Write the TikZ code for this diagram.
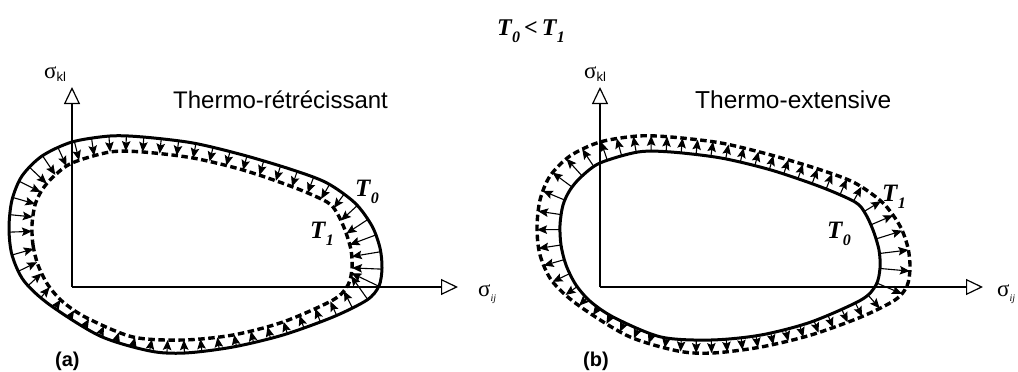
\documentclass[tikz,border=0pt]{standalone}
\usepackage{fontspec}
\setmainfont{Liberation Serif}
\setsansfont{Liberation Sans}
\usetikzlibrary{arrows.meta,decorations.markings,intersections}
\tikzset{
  solidline/.style={line width=3pt, line join=round},
  dashline/.style={line width=3.4pt, dash pattern=on 6.5pt off 3.5pt},
  arr/.style={line width=1.1pt, -{Stealth[length=10pt,width=8.5pt,inset=1.8pt]}},
  axisline/.style={line width=1.2pt, -{Triangle[length=17pt,width=16pt,fill=white,line width=1.2pt]}},
  lab/.style={inner sep=0pt, anchor=base west},
}
\newcommand\Tsub[2]{T\kern0.3pt\raisebox{-0.3em}{\fontsize{#1}{#1}\selectfont #2}}
\newcommand\sigkl{{\fontsize{23pt}{23pt}\selectfont σ}\raisebox{-3pt}{\sffamily\fontsize{13pt}{13pt}\selectfont kl}}
\newcommand\sigij{{\fontsize{23pt}{23pt}\selectfont σ}\raisebox{-5pt}{\itshape\fontsize{10pt}{10pt}\selectfont ij}}
\begin{document}
\begin{tikzpicture}[x=1pt,y=-1pt]
\fill[white] (0,0) rectangle (1018,372);
\useasboundingbox (0,0) rectangle (1018,372);

% ---------- title
\node[lab] (title) at (497,35) {\bfseries\itshape\fontsize{24pt}{28pt}\selectfont \Tsub{16pt}{0}\,<\,\Tsub{16pt}{1}};

% ---------- panel (a)
\draw[axisline] (72,287) -- (72,87);
\draw[axisline] (72,287) -- (458,287);
\draw[dashline, name path=innA] plot[smooth cycle] coordinates {
 (32,225) (33,245) (38,265) (48,285) (63,302) (87,318) (133,337) (183,340) (233,335) (283,322) (333,300) (348,285) (352,268) (351,250) (345,230) (337,213) (327,202) (293,187) (243,170) (193,158) (143,152) (110,152) (72,163) (53,177) (42,190) (35,205)};
\draw[solidline, postaction={decorate, decoration={markings,
   mark=between positions 0 and 0.99 step 17.5pt with {
     \pgfkeysgetvalue{/pgf/decoration/mark info/sequence number}{\mk}
     \coordinate (PA\mk); \coordinate (QA\mk) at (0pt,60pt); \xdef\NA{\mk}}}}]
 plot[smooth cycle] coordinates {
 (9,228) (12,255) (24,281) (50,305) (100,336) (150,351) (185,353) (233,347) (283,335) (333,317) (367,300) (379,286) (382,268) (380,248) (372,226) (355,203) (327,183) (293,170) (243,155) (193,143) (143,137) (110,136) (72,142) (42,156) (22,176) (12,200)};
\foreach \i in {1,...,\NA}{
  \path[name path=ray] (PA\i) -- (QA\i);
  \path[name intersections={of=ray and innA,total=\t,sort by=ray}] \pgfextra{\xdef\tot{\t}};
  \ifnum\tot>0 \draw[arr] (PA\i) -- (intersection-1);\fi
}
\node[lab] (sklA) at (44,78) {\sigkl};
\node[lab] (sijA) at (478,296) {\sigij};
\node[lab] (thA) at (173,108) {\sffamily\fontsize{24pt}{28pt}\selectfont Thermo-rétrécissant};
\node[lab] (t0A) at (355,196) {\bfseries\itshape\fontsize{25pt}{28pt}\selectfont \Tsub{16pt}{0}};
\node[lab] (t1A) at (310,238) {\bfseries\itshape\fontsize{25pt}{28pt}\selectfont \Tsub{16pt}{1}};
\node[lab] (la) at (55,366) {\sffamily\bfseries\fontsize{20pt}{24pt}\selectfont (a)};

% ---------- panel (b)
\draw[axisline] (600,287) -- (600,87);
\draw[axisline] (600,287) -- (983,287);
\draw[dashline, name path=outB] plot[smooth cycle] coordinates {
 (537,228) (540,255) (552,281) (578,305) (628,336) (678,351) (713,353) (761,347) (811,335) (861,317) (895,300) (907,286) (910,268) (908,248) (900,226) (883,203) (855,183) (821,170) (771,155) (721,143) (671,137) (638,136) (600,142) (570,156) (550,176) (540,200)};
\draw[solidline, postaction={decorate, decoration={markings,
   mark=between positions 0 and 0.99 step 15pt with {
     \pgfkeysgetvalue{/pgf/decoration/mark info/sequence number}{\mk}
     \coordinate (PB\mk); \coordinate (QB\mk) at (0pt,-60pt); \xdef\NB{\mk}}}}]
 plot[smooth cycle] coordinates {
 (560,225) (561,245) (566,265) (576,285) (591,302) (615,318) (661,337) (711,340) (761,335) (811,322) (861,300) (876,285) (880,268) (879,250) (873,230) (865,213) (855,202) (821,187) (771,170) (721,158) (671,152) (638,152) (600,163) (581,177) (570,190) (563,205)};
\foreach \i in {1,...,\NB}{
  \path[name path=ray] (PB\i) -- (QB\i);
  \path[name intersections={of=ray and outB,total=\t,sort by=ray}] \pgfextra{\xdef\tot{\t}};
  \ifnum\tot>0 \draw[arr] (PB\i) -- (intersection-1);\fi
}
\node[lab] (sklB) at (584,78) {\sigkl};
\node[lab] (sijB) at (997,296) {\sigij};
\node[lab] (thB) at (695,108) {\sffamily\fontsize{24.5pt}{28pt}\selectfont Thermo-extensive};
\node[lab] (t1B) at (882,201) {\bfseries\itshape\fontsize{25pt}{28pt}\selectfont \Tsub{16pt}{1}};
\node[lab] (t0B) at (827,238) {\bfseries\itshape\fontsize{25pt}{28pt}\selectfont \Tsub{16pt}{0}};
\node[lab] (lb) at (583,366) {\sffamily\bfseries\fontsize{20pt}{24pt}\selectfont (b)};
\end{tikzpicture}
\end{document}
